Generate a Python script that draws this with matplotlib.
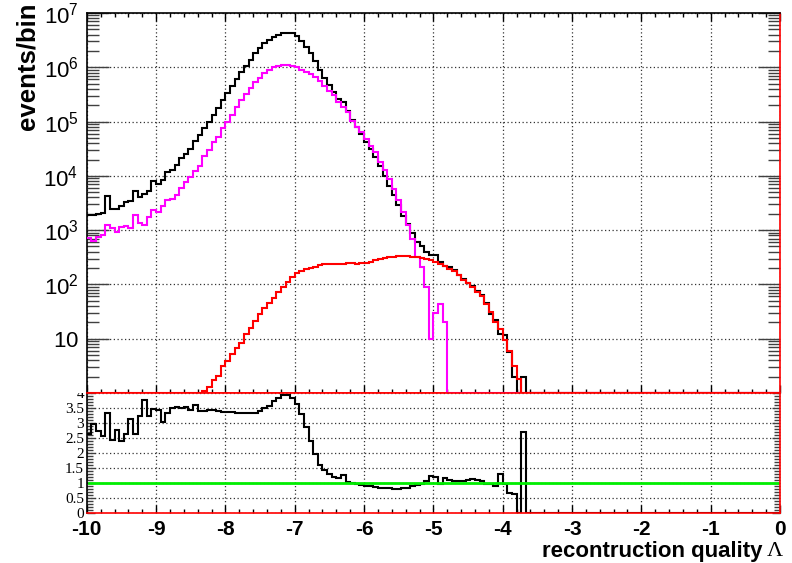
import numpy as np
import matplotlib
matplotlib.use("Agg")
import matplotlib.pyplot as plt
from matplotlib.patches import Rectangle
from matplotlib.ticker import FixedLocator, MultipleLocator, NullFormatter, LogLocator

# ---------------- data ----------------
n_bins = 150
x_min, x_max = -10.0, 0.0

black_counts = [
    1900, 1900, 1950, 2030, 4230, 2500, 2500, 2800, 3320, 3460,
    5220, 4100, 4730, 5220, 7960, 7210, 8550, 11800, 12700, 15700,
    20900, 25000, 31800, 43000, 55500, 76400, 97000, 132700, 176000, 254000,
    331000, 460000, 609000, 832000, 1.07e6, 1.36e6, 1.81e6, 2.24e6, 2.77e6, 3.18e6,
    3.67e6, 3.99e6, 4.28e6, 4.34e6, 4.22e6, 3.72e6, 3.09e6, 2.40e6, 1.81e6, 1.29e6,
    893000, 636000, 473000, 356000, 261000, 227000, 155000, 107000, 78700, 59300,
    42900, 31400, 22100, 15500, 10100, 6620, 4350, 2850, 1810, 1300,
    900, 603, 500, 395, 353, 343, 258, 218, 209, 181,
    151, 124, 107, 93, 77, 63, 46, 29, 22, 12.3,
    11.5, 5.6, 2.0, 0, 2.0,
]
magenta_counts = [
    723, 637, 743, 810, 1270, 1073, 906, 1120, 1185, 1073,
    1940, 1330, 1236, 1710, 2330, 2170, 2800, 3570, 3720, 4530,
    6090, 7760, 9560, 12200, 15100, 23700, 30500, 41700, 52900, 76400,
    97300, 133000, 189000, 254000, 324000, 417000, 530000, 637000, 775000, 893000,
    1.0e6, 1.07e6, 1.10e6, 1.10e6, 1.07e6, 1.03e6, 906000, 809000, 760000, 655000,
    569000, 460000, 372000, 310000, 227000, 184000, 149000, 104000, 78700, 63500,
    47800, 36100, 27300, 17900, 12600, 8800, 5760, 3520, 2160, 1230,
    694, 320, 209, 89, 9.7, 30, 44, 20,
]
red_counts = [
    0, 0, 0, 0, 0, 0, 0, 0, 0, 0,
    0, 0, 0, 0, 0, 0, 0, 0, 0, 0,
    0, 0, 0, 0, 0, 1.1, 1.3, 1.7, 2.1, 3.1,
    3.9, 5.3, 6.7, 8.4, 12, 16, 21, 29, 37, 46,
    57, 73, 90, 112, 135, 160, 180, 195, 205, 211,
    227, 233, 233, 235, 235, 237, 244, 244, 235, 244,
    248, 261, 281, 295, 301, 315, 323, 330, 332, 332,
    325, 318, 306, 289, 277, 258, 240, 218, 195, 175,
    147, 119, 107, 89, 74, 60, 44, 31, 20, 15,
    9.5, 6.0, 3.2, 1.8, 0.75,
]
ratio_values = [
    2.65, 2.96, 2.74, 2.57, 3.35, 2.42, 2.76, 2.40, 2.63, 3.13,
    2.65, 3.24, 3.77, 3.24, 3.46, 3.43, 3.02, 3.32, 3.49, 3.52,
    3.49, 3.52, 3.43, 3.60, 3.41, 3.39, 3.43, 3.45, 3.39, 3.38,
    3.37, 3.36, 3.35, 3.33, 3.32, 3.35, 3.35, 3.39, 3.49, 3.58,
    3.72, 3.85, 3.92, 3.92, 3.85, 3.62, 3.30, 2.86, 2.40, 1.97,
    1.60, 1.42, 1.30, 1.19, 1.16, 1.27, 1.02, 1.00, 0.97, 0.93,
    0.91, 0.89, 0.86, 0.84, 0.85, 0.82, 0.80, 0.80, 0.83, 0.85,
    0.91, 0.94, 0.97, 1.06, 1.25, 1.19, 0.97, 1.17, 1.11, 1.08,
    1.06, 1.08, 1.11, 1.14, 1.10, 1.08, 0.97, 0.97, 0.91, 1.31,
    0.97, 0.68, 0.65, 0, 2.70,
]
reference_level = 1.0

x_ticks = [-10, -9, -8, -7, -6, -5, -4, -3, -2, -1, 0]
x_ticklabels = ["-10", "-9", "-8", "-7", "-6", "-5", "-4", "-3", "-2", "-1", "0"]
top_yticks = [1e1, 1e2, 1e3, 1e4, 1e5, 1e6, 1e7]
top_yticklabels = [r"$\mathregular{10}$", r"$\mathregular{10^{2}}$", r"$\mathregular{10^{3}}$",
                   r"$\mathregular{10^{4}}$", r"$\mathregular{10^{5}}$", r"$\mathregular{10^{6}}$",
                   r"$\mathregular{10^{7}}$"]
ratio_yticks = [0, 0.5, 1, 1.5, 2, 2.5, 3, 3.5, 4]
ratio_yticklabels = ["0", "0.5", "1", "1.5", "2", "2.5", "3", "3.5", "4"]

ylabel_text = "events/bin"
xlabel_text = "recontruction quality"
xlabel_symbol = "\u039b"


def full(vals):
    a = np.zeros(n_bins)
    a[:len(vals)] = vals
    return a


black = full(black_counts)
magenta = full(magenta_counts)
red = full(red_counts)
ratio = full(ratio_values)
edges = np.linspace(x_min, x_max, n_bins + 1)
centers = 0.5 * (edges[:-1] + edges[1:])

# ---------------- style ----------------
plt.rcParams["font.family"] = ["Liberation Sans", "DejaVu Sans"]
plt.rcParams["mathtext.fontset"] = "custom"
plt.rcParams["mathtext.rm"] = "Liberation Sans:bold"
plt.rcParams["mathtext.bf"] = "Liberation Sans:bold"
plt.rcParams["mathtext.it"] = "Liberation Sans:bold:italic"

W, H = 792, 563
fig = plt.figure(figsize=(W / 100, H / 100), dpi=100)


def frac(l, t, r, b):
    return [l / W, 1 - b / H, (r - l) / W, (b - t) / H]


ax_top = fig.add_axes(frac(86.8, 13, 780, 393))
ax_bot = fig.add_axes(frac(86.8, 393, 780, 513))

grid_kw = dict(linestyle=(0, (1, 2)), color="#333333", linewidth=0.9)
px = 0.72  # points per pixel

# ---- top panel ----
ax_top.set_yscale("log")
ax_top.set_xlim(x_min, x_max)
ax_top.set_ylim(1, 1e7)
lw = 1.5
ax_top.stairs(np.clip(black, 1, None), edges, color="black", lw=lw, baseline=None,
              zorder=3, clip_on=False)
ax_top.stairs(np.clip(magenta, 1, None), edges, color="#ff00ff", lw=lw, baseline=None,
              zorder=3.1, clip_on=False)
ax_top.stairs(np.clip(red, 1, None), edges, color="#ff0000", lw=lw, baseline=None,
              zorder=3.2, clip_on=False)

ax_top.xaxis.set_major_locator(FixedLocator(x_ticks))
ax_top.xaxis.set_minor_locator(MultipleLocator(0.2))
ax_top.yaxis.set_major_locator(FixedLocator([1] + top_yticks))
ax_top.set_yticklabels([""] + top_yticklabels)
ax_top.yaxis.set_minor_locator(LogLocator(base=10, subs=np.arange(2, 10), numticks=20))
ax_top.yaxis.set_minor_formatter(NullFormatter())
ax_top.tick_params(axis="x", which="both", direction="in", top=True, bottom=True,
                   labelbottom=False, width=1.0)
ax_top.tick_params(axis="x", which="major", length=8 * px)
ax_top.tick_params(axis="x", which="minor", length=4 * px)
ax_top.tick_params(axis="y", which="both", direction="in", left=True, right=True,
                   width=1.0, color="#404040", labelsize=16, pad=6)
ax_top.tick_params(axis="y", which="major", length=22 * px)
ax_top.tick_params(axis="y", which="minor", length=12 * px)
ax_top.grid(True, which="major", **grid_kw)
ax_top.spines["right"].set_color("#ff0000")
ax_top.spines["bottom"].set_color("#ff0000")
for s in ax_top.spines.values():
    s.set_linewidth(1.2)

# ---- ratio panel ----
ax_bot.set_xlim(x_min, x_max)
ax_bot.set_ylim(0, 4)
ax_bot.stairs(ratio, edges, color="black", lw=lw, baseline=None, zorder=2)
ax_bot.plot([centers[0], centers[-1]], [reference_level, reference_level],
            color="#00ee00", lw=2.0, zorder=2.2)
ax_bot.xaxis.set_major_locator(FixedLocator(x_ticks))
ax_bot.set_xticklabels(x_ticklabels)
ax_bot.xaxis.set_minor_locator(MultipleLocator(0.2))
ax_bot.yaxis.set_major_locator(FixedLocator(ratio_yticks))
ax_bot.set_yticklabels(ratio_yticklabels)
ax_bot.yaxis.set_minor_locator(MultipleLocator(0.1))
ax_bot.tick_params(axis="x", which="both", direction="in", top=False, bottom=True,
                   labelsize=15, pad=5, width=1.0)
ax_bot.tick_params(axis="x", which="major", length=8 * px)
ax_bot.tick_params(axis="x", which="minor", length=4 * px)
ax_bot.tick_params(axis="y", which="both", direction="in", left=True, right=True,
                   width=1.0, color="#404040", pad=2)
ax_bot.tick_params(axis="y", which="major", length=8 * px)
ax_bot.tick_params(axis="y", which="minor", length=6 * px)
for lab in ax_bot.get_xticklabels():
    lab.set_fontweight("bold")
for lab in ax_bot.get_yticklabels():
    lab.set_fontfamily("Liberation Serif")
    lab.set_fontsize(11)
ax_bot.grid(True, which="major", **grid_kw)
for side in ("top", "bottom", "right"):
    ax_bot.spines[side].set_color("#ff0000")
for s in ax_bot.spines.values():
    s.set_linewidth(1.2)

# the upper pad hides the upper half of the "4" label
fig.add_artist(Rectangle((30 / W, 1 - 393.3 / H), 55 / W, 15 / H, transform=fig.transFigure,
                         facecolor="white", edgecolor="none", zorder=5))

# ---- titles ----
fig.text(28 / W, 1 - 3 / H, ylabel_text, rotation=90, ha="center", va="top",
         fontsize=18.5, fontweight="bold")
fig.text(762 / W, 1 - 556.5 / H, xlabel_text, ha="right", va="baseline",
         fontsize=16, fontweight="bold")
fig.text(783 / W, 1 - 556.5 / H, xlabel_symbol, ha="right", va="baseline",
         fontsize=16, family="Liberation Serif")

fig.savefig("out.png", dpi=100)
